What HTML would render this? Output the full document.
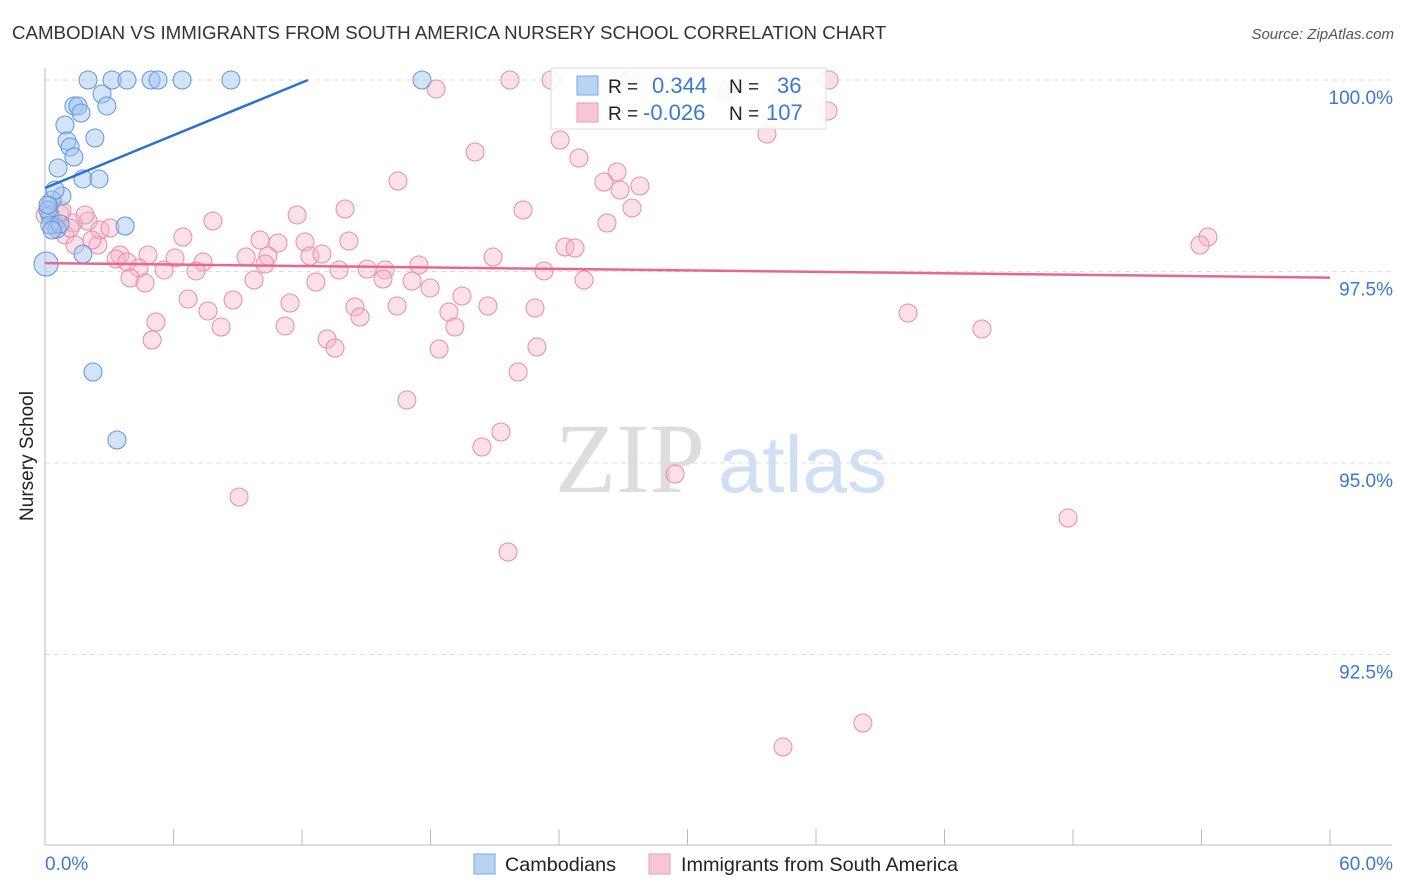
<!DOCTYPE html>
<html><head><meta charset="utf-8"><style>
body{margin:0;background:#fff;font-family:"Liberation Sans",sans-serif}
svg{display:block}
</style></head><body>
<svg id="c" width="1406" height="892" xmlns="http://www.w3.org/2000/svg">
<text x="12" y="39" font-size="18.7" fill="#333">CAMBODIAN VS IMMIGRANTS FROM SOUTH AMERICA NURSERY SCHOOL CORRELATION CHART</text>
<text x="1394" y="39" font-size="15" fill="#555" font-style="italic" text-anchor="end">Source: ZipAtlas.com</text>
<text x="555" y="492" font-size="100" fill="#ddd" font-family="Liberation Serif,serif">ZIP</text>
<text x="718" y="492" font-size="80" fill="#cfe0f5">atlas</text>
<g id="grid"></g>
<line x1="45" y1="68" x2="45" y2="845" stroke="#bbb"/>
<line x1="45" y1="845" x2="1392" y2="845" stroke="#bbb"/>
<text transform="translate(33,456) rotate(-90)" font-size="19" fill="#222" text-anchor="middle">Nursery School</text>
<text x="45" y="870" font-size="19" fill="#3a78d4">0.0%</text>
<text x="1393" y="870" font-size="19" fill="#3a78d4" text-anchor="end">60.0%</text>
<g id="pts"></g>
<g>
<rect x="551" y="68" width="275" height="61" fill="#fff" fill-opacity="0.85" stroke="#ddd"/>
<rect x="577" y="76" width="21" height="19" fill="#b8d3f5" stroke="#7aa9e8"/>
<rect x="577" y="103" width="21" height="19" fill="#f9c6d5" stroke="#ee98b2"/>
<text x="608" y="93" font-size="19" fill="#222">R =</text><text x="652" y="93" font-size="22" fill="#3a78d4">0.344</text>
<text x="729" y="93" font-size="19" fill="#222">N =</text><text x="777" y="93" font-size="22" fill="#3a78d4">36</text>
<text x="608" y="120" font-size="19" fill="#222">R =</text><text x="643" y="120" font-size="22" fill="#3a78d4">-0.026</text>
<text x="729" y="120" font-size="19" fill="#222">N =</text><text x="766" y="120" font-size="22" fill="#3a78d4">107</text>
</g>
<g>
<rect x="474" y="854" width="21" height="20" fill="#b8d3f5" stroke="#7aa9e8"/>
<text x="505" y="871" font-size="19.8" fill="#222">Cambodians</text>
<rect x="649" y="854" width="21" height="20" fill="#f9c6d5" stroke="#ee98b2"/>
<text x="681" y="871" font-size="19.8" fill="#222">Immigrants from South America</text>
</g>
</svg>
<script>
const yTicks=[100,97.5,95,92.5];
const yTickLabels=["100.0%","97.5%","95.0%","92.5%"];
const xTicks=[0,6,12,18,24,30,36,42,48,54,60];
const bluePx=[[88,80],[112,80],[127,80],[151,80],[158,80],[182,80],[231,80],[422,80],[102,94],[74,106],[78,106],[107,106],[81,113],[65,125],[95,138],[67,141],[70,147],[74,157],[58,168],[83,179],[99,179],[62,196],[52,200],[125,226],[57,229],[50,215],[48,210],[83,254],[93,372],[117,440],[50,225],[60,224],[55,190],[48,205],[52,230],[46,264]];
const pinkPx=[[510,80],[551,80],[629,80],[829,80],[436,89],[727,92],[828,111],[560,140],[475,152],[579,158],[617,172],[604,182],[620,190],[640,186],[398,181],[767,134],[345,209],[523,210],[632,208],[297,215],[213,221],[607,223],[88,221],[73,223],[60,214],[1208,237],[1200,245],[183,237],[260,240],[278,243],[305,242],[349,241],[493,257],[565,247],[575,248],[98,245],[120,255],[148,255],[175,258],[203,262],[246,257],[268,256],[310,256],[322,254],[116,259],[127,262],[139,268],[164,270],[196,271],[265,264],[339,270],[367,269],[385,270],[419,265],[544,271],[130,278],[145,283],[254,280],[316,282],[383,279],[412,281],[430,288],[584,280],[188,299],[233,300],[290,303],[355,307],[462,296],[397,306],[488,306],[208,311],[360,317],[449,312],[535,308],[156,322],[221,327],[285,326],[455,327],[908,313],[982,329],[152,340],[327,339],[335,348],[439,349],[537,347],[518,372],[407,400],[501,432],[482,447],[675,474],[239,497],[1068,518],[508,552],[863,723],[783,747],[50,205],[55,225],[65,235],[75,245],[100,230],[85,215],[62,211],[110,228],[45,215],[70,228],[92,240]];
const blueX=bluePx.map(p=>+((p[0]-45)/1285*60).toFixed(2)), blueY=bluePx.map(p=>+(100-(p[1]-80)/76.6).toFixed(3));
const pinkX=pinkPx.map(p=>+((p[0]-45)/1285*60).toFixed(2)), pinkY=pinkPx.map(p=>+(100-(p[1]-80)/76.6).toFixed(3));
const blueTrend=[[0,98.59],[12.28,100]];
const pinkTrend=[[0,97.61],[60,97.42]];
const sx=v=>45+v/60*1285, sy=v=>80+(100-v)*76.6;
const NS="http://www.w3.org/2000/svg";
function mk(t,a,parent){const e=document.createElementNS(NS,t);for(const k in a)e.setAttribute(k,a[k]);parent.appendChild(e);return e;}
const grid=document.getElementById('grid');
yTicks.forEach((t,i)=>{
 const l=mk('line',{x1:45,x2:1392,y1:sy(t),y2:sy(t),stroke:'#ddd','stroke-dasharray':'5,4'},grid);
 
 
 const tx=mk('text',{x:1393,y:sy(t)+24,'font-size':19,fill:'#3a78d4','text-anchor':'end'},grid);
 tx.textContent=yTickLabels[i];
 
 
});
xTicks.forEach(t=>{
 const l=mk('line',{x1:sx(t),x2:sx(t),y1:829,y2:845,stroke:'#bbb'},grid);
 
 
});
const pts=document.getElementById('pts');
pinkX.forEach((x,i)=>{
 const c=mk('circle',{cx:sx(x),cy:sy(pinkY[i]),r:9,fill:'#f7b5c9','fill-opacity':0.4,stroke:'#ec8aa8','stroke-width':1},pts);
 
 
});
blueX.forEach((x,i)=>{
 const c=mk('circle',{cx:sx(x),cy:sy(blueY[i]),r:i==35?12:9,fill:'#9fc3f0','fill-opacity':0.45,stroke:'#5d95de','stroke-width':1},pts);
 
 
});
const bl=mk('line',{x1:sx(blueTrend[0][0]),y1:sy(blueTrend[0][1]),x2:sx(blueTrend[1][0]),y2:sy(blueTrend[1][1]),stroke:'#2a6fd6','stroke-width':2.5},pts);


const pl=mk('line',{x1:sx(pinkTrend[0][0]),y1:sy(pinkTrend[0][1]),x2:sx(pinkTrend[1][0]),y2:sy(pinkTrend[1][1]),stroke:'#e8668f','stroke-width':2.5},pts);


</script>
</body></html>
